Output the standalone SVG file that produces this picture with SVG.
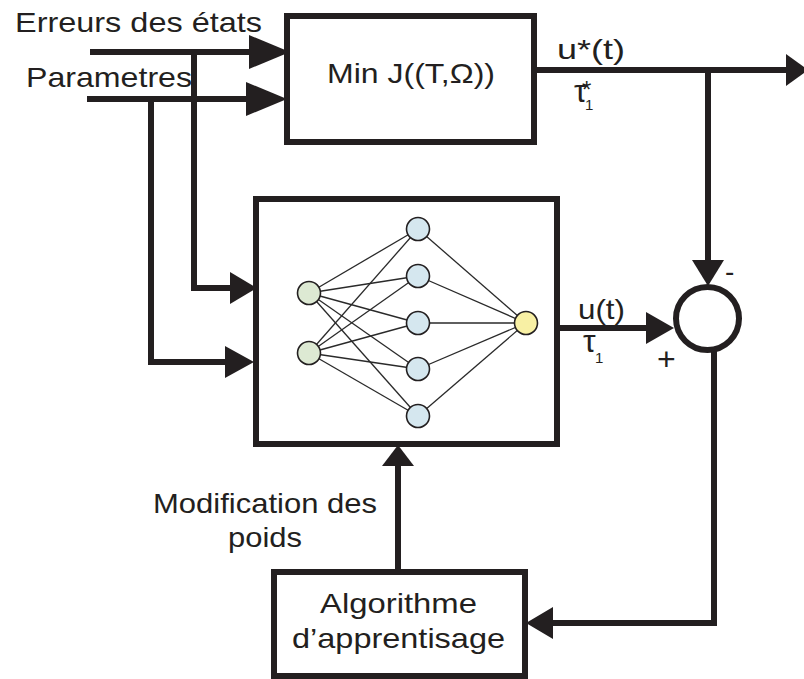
<svg xmlns="http://www.w3.org/2000/svg" width="804" height="679" viewBox="0 0 804 679">
<style>
.box{fill:#fff;stroke:#231f20;stroke-width:6}
.wire{fill:none;stroke:#231f20;stroke-width:6}
.ah{fill:#231f20}
.t{font-family:"Liberation Sans",Arial,sans-serif;font-size:28px;fill:#231f20}
.tau{font-size:32px}
.sub{font-size:15px}
.star{font-size:24px}
.syn{stroke:#2a2a2a;stroke-width:1.3}
.neu{stroke:#231f20;stroke-width:1.6}
</style>
<rect width="804" height="679" fill="#fff"/>
<g id="connectors">
<line class="wire" x1="90" y1="52" x2="252" y2="52"/>
<polygon class="ah" points="249,35 290,52 249,69"/>
<line class="wire" x1="87" y1="99" x2="249" y2="99"/>
<polygon class="ah" points="246,82 287,99 246,116"/>
<polyline class="wire" points="194,52 194,288 232,288"/>
<polygon class="ah" points="230,272 257,288 230,304"/>
<polyline class="wire" points="151,99 151,362 227,362"/>
<polygon class="ah" points="225,346 254,362 225,378"/>
<line class="wire" x1="534" y1="70" x2="789" y2="70"/>
<polygon class="ah" points="786,54 808,70 786,86"/>
<line class="wire" x1="708" y1="70" x2="708" y2="262"/>
<polygon class="ah" points="692,260 708,286 724,260"/>
<line class="wire" x1="557" y1="328" x2="648" y2="328"/>
<polygon class="ah" points="646,312 674,328 646,344"/>
<polyline class="wire" points="714,351 714,623 551,623"/>
<polygon class="ah" points="553,607 526,623 553,639"/>
<line class="wire" x1="398" y1="570" x2="398" y2="464"/>
<polygon class="ah" points="382,466 398,445 414,466"/>
</g>
<g id="minj">
<rect class="box" x="287" y="16" width="247" height="126"/>
<text class="t" x="327" y="83" textLength="168" lengthAdjust="spacingAndGlyphs">Min J((T,Ω))</text>
</g>
<g id="nn">
<rect class="box" x="256" y="199" width="301" height="245"/>
<g class="syn">
<line x1="309" y1="293" x2="418" y2="229"/><line x1="309" y1="293" x2="418" y2="276"/><line x1="309" y1="293" x2="418" y2="323"/><line x1="309" y1="293" x2="418" y2="369"/><line x1="309" y1="293" x2="418" y2="416"/>
<line x1="309" y1="353" x2="418" y2="229"/><line x1="309" y1="353" x2="418" y2="276"/><line x1="309" y1="353" x2="418" y2="323"/><line x1="309" y1="353" x2="418" y2="369"/><line x1="309" y1="353" x2="418" y2="416"/>
<line x1="418" y1="229" x2="526" y2="323"/><line x1="418" y1="276" x2="526" y2="323"/><line x1="418" y1="323" x2="526" y2="323"/><line x1="418" y1="369" x2="526" y2="323"/><line x1="418" y1="416" x2="526" y2="323"/>
</g>
<g class="neu">
<circle cx="309" cy="293" r="11.5" fill="#dde9d3"/>
<circle cx="309" cy="353" r="11.5" fill="#dde9d3"/>
<circle cx="418" cy="229" r="11.5" fill="#d5e7ef"/>
<circle cx="418" cy="276" r="11.5" fill="#d5e7ef"/>
<circle cx="418" cy="323" r="11.5" fill="#d5e7ef"/>
<circle cx="418" cy="369" r="11.5" fill="#d5e7ef"/>
<circle cx="418" cy="416" r="11.5" fill="#d5e7ef"/>
<circle cx="526" cy="323" r="11.5" fill="#f8f0a4"/>
</g>
</g>
<g id="sum">
<circle cx="707.5" cy="318.5" r="31.5" fill="#fff" stroke="#231f20" stroke-width="6"/>
<text class="t" x="725" y="281">-</text>
<text class="t" x="657" y="370" style="font-size:32px">+</text>
</g>
<g id="algo">
<rect class="box" x="274" y="572" width="251" height="104"/>
<text class="t" x="320" y="613" textLength="157" lengthAdjust="spacingAndGlyphs">Algorithme</text>
<text class="t" x="292" y="648" textLength="213" lengthAdjust="spacingAndGlyphs">d’apprentisage</text>
</g>
<g id="labels">
<text class="t" x="15" y="32" textLength="247" lengthAdjust="spacingAndGlyphs">Erreurs des états</text>
<text class="t" x="26" y="87" textLength="166" lengthAdjust="spacingAndGlyphs">Parametres</text>
<text class="t" x="557" y="59" textLength="68" lengthAdjust="spacingAndGlyphs">u*(t)</text>
<text class="t"><tspan class="tau" x="574" y="102">τ</tspan><tspan class="sub" x="585" y="110">1</tspan><tspan class="star" x="582" y="98">*</tspan></text>
<text class="t" x="578" y="319" textLength="47" lengthAdjust="spacingAndGlyphs">u(t)</text>
<text class="t"><tspan class="tau" x="583" y="352">τ</tspan><tspan class="sub" x="595" y="363">1</tspan></text>
<text class="t" x="153" y="513" textLength="224" lengthAdjust="spacingAndGlyphs">Modification des</text>
<text class="t" x="228" y="547" textLength="74" lengthAdjust="spacingAndGlyphs">poids</text>
</g>
</svg>
